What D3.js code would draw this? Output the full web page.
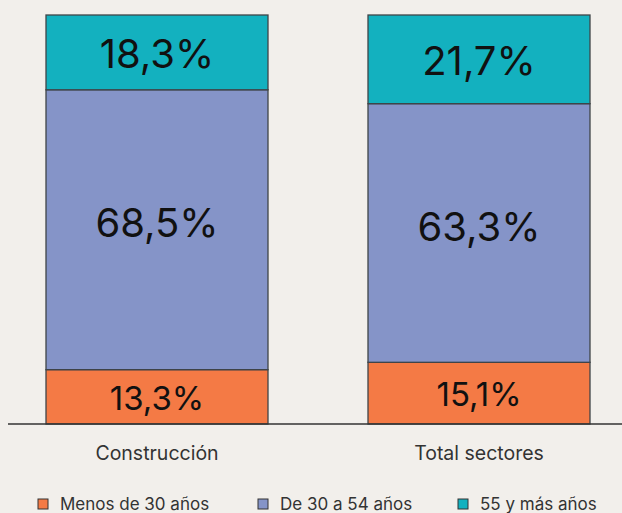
<!DOCTYPE html>
<html><head><meta charset="utf-8">
<script src="https://cdn.jsdelivr.net/npm/d3@7"></script>
<style>
html,body{margin:0;padding:0;background:#f2efeb;}
svg{display:block;}
</style></head>
<body>
<svg id="chart" width="622" height="513"></svg>
<script>
const categories = ["Construcción", "Total sectores"];
const seriesNames = ["Menos de 30 años", "De 30 a 54 años", "55 y más años"];
const menos30 = [13.3, 15.1];
const de30a54 = [68.5, 63.3];
const mas55 = [18.3, 21.7];
const colors = ["#f47a45", "#8594c8", "#13b1bf"];

const data = categories.map((c, i) => ({cat: c, s0: menos30[i], s1: de30a54[i], s2: mas55[i]}));
const keys = ["s0", "s1", "s2"];
const stack = d3.stack().keys(keys)(data);

const svg = d3.select("#chart");
const x = d3.scaleBand().domain(categories).range([46, 590]).paddingInner(100/322).paddingOuter(0);
const y = d3.scaleLinear().domain([0, 100.1]).range([424, 15]);
const fmt = v => d3.format(".1f")(v).replace(".", ",") + "%";
const fontSizes = [33, 40, 40];

const g = svg.append("g");
stack.forEach((layer, li) => {
  const lg = g.append("g");
  lg.selectAll("rect").data(layer).join("rect")
    .attr("x", d => x(d.data.cat))
    .attr("y", d => y(d[1]))
    .attr("width", x.bandwidth())
    .attr("height", d => y(d[0]) - y(d[1]))
    .attr("fill", colors[li])
    .attr("stroke", "#3f4448")
    .attr("stroke-width", 1.3);
  lg.selectAll("text").data(layer).join("text")
    .attr("x", d => x(d.data.cat) + x.bandwidth()/2)
    .attr("y", d => (y(d[0]) + y(d[1]))/2 + fontSizes[li]*0.727/2 + (li === 1 ? -7 : 1))
    .attr("text-anchor", "middle")
    .attr("font-family", "Inter, 'Noto Sans', sans-serif")
    .attr("font-size", fontSizes[li])
    .attr("fill", "#111")
    .text(d => fmt(d[1] - d[0]));
});

// baseline
const xAxis = d3.axisBottom(x).tickSize(0).tickPadding(22);
const ax = svg.append("g").attr("transform", "translate(0,424)").call(xAxis);
ax.select(".domain").attr("d", "M8,0H622").attr("stroke", "#333").attr("stroke-width", 1.3);
ax.selectAll("text").attr("font-family", "Inter, 'Noto Sans', sans-serif").attr("font-size", 19.5).attr("fill", "#333");

// legend
const legendX = [38, 258, 458];
const lg = svg.append("g");
seriesNames.forEach((n, i) => {
  lg.append("rect").attr("x", legendX[i]).attr("y", 499).attr("width", 10).attr("height", 10)
    .attr("fill", colors[i]).attr("stroke", "#333").attr("stroke-width", 1);
  lg.append("text").attr("x", legendX[i] + 22).attr("y", 510)
    .attr("font-family", "Inter, 'Noto Sans', sans-serif").attr("font-size", 17).attr("fill", "#333")
    .text(n);
});
</script>
</body></html>
